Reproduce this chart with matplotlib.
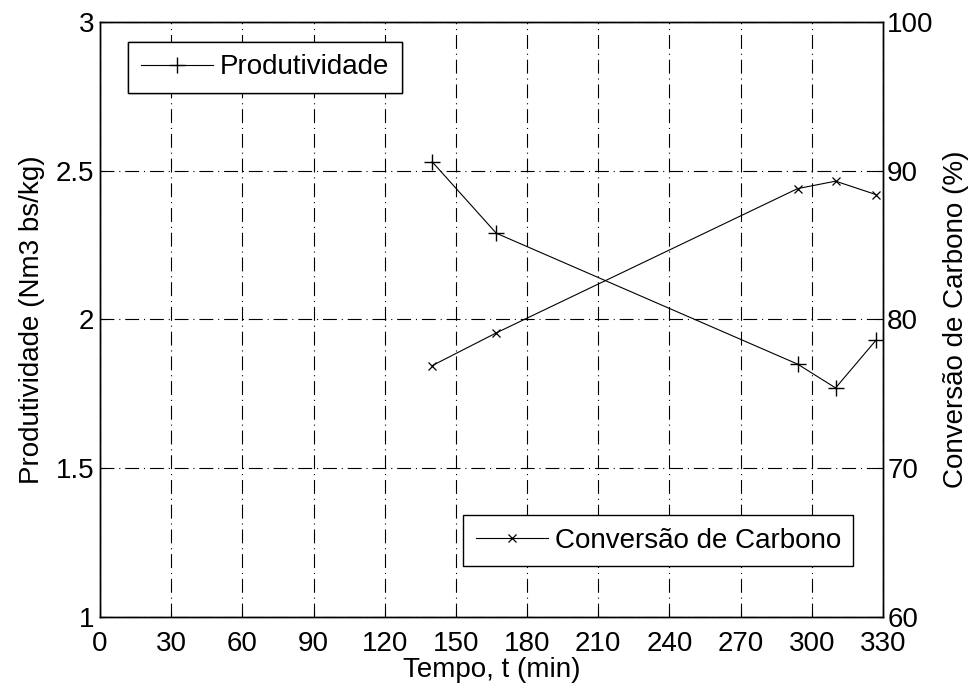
import matplotlib
matplotlib.use("Agg")
import matplotlib.pyplot as plt

# data
tempo = [140, 167, 294, 310, 327]
produtividade = [2.53, 2.29, 1.85, 1.77, 1.93]
conversao = [76.9, 79.1, 88.8, 89.3, 88.4]

x_ticks = list(range(0, 331, 30))
y1_ticks = [1, 1.5, 2, 2.5, 3]
y2_ticks = [60, 70, 80, 90, 100]

plt.rcParams["font.family"] = ["Liberation Sans", "DejaVu Sans"]
plt.rcParams["font.size"] = 20
plt.rcParams["lines.scale_dashes"] = False

fig = plt.figure(figsize=(9.74, 6.92), dpi=100)
ax = fig.add_axes([0.1027, 0.1084, 0.8039, 0.8598])
ax2 = ax.twinx()

grid_style = (0, (10, 3.5, 0.8, 3.5))
ax.grid(True, color="black", linestyle=grid_style, linewidth=0.8)
ax.set_axisbelow(True)

l1, = ax.plot(tempo, produtividade, color="black", lw=0.8, marker="+",
              markersize=11, markeredgewidth=1.0, label="Produtividade")
l2, = ax2.plot(tempo, conversao, color="black", lw=0.8, marker="x",
               markersize=6, markeredgewidth=0.9, label="Conversão de Carbono")

ax.set_xlim(0, 330)
ax.set_ylim(1, 3)
ax2.set_ylim(60, 100)
ax.set_xticks(x_ticks)
ax.set_yticks(y1_ticks)
ax.set_yticklabels(["1", "1.5", "2", "2.5", "3"])
ax2.set_yticks(y2_ticks)

for a in (ax, ax2):
    a.tick_params(direction="in", length=4, width=0.8, pad=4, colors="black")
    for s in a.spines.values():
        s.set_linewidth(1.0)
        s.set_color("black")
ax.tick_params(axis="x", pad=10)
ax2.tick_params(axis="y", pad=3)

ax.set_xlabel("Tempo, t (min)", labelpad=0)
ax.set_ylabel("Produtividade (Nm3 bs/kg)", labelpad=8)
ax2.set_ylabel("Conversão de Carbono (%)", rotation=90, labelpad=7)

leg_kw = dict(loc="upper left", bbox_transform=fig.transFigure, frameon=True,
              fancybox=False, framealpha=1, edgecolor="black",
              handlelength=2.6, borderpad=0.45, handletextpad=0.25,
              borderaxespad=0)

leg1 = ax.legend(handles=[l1], bbox_to_anchor=(128 / 974, 1 - 42 / 692), **leg_kw)
leg1.get_frame().set_linewidth(1.0)
ax.add_artist(leg1)

leg2 = ax2.legend(handles=[l2], bbox_to_anchor=(463 / 974, 1 - 515 / 692), **leg_kw)
leg2.get_frame().set_linewidth(1.0)

fig.savefig("out.png", dpi=100, facecolor="white")
